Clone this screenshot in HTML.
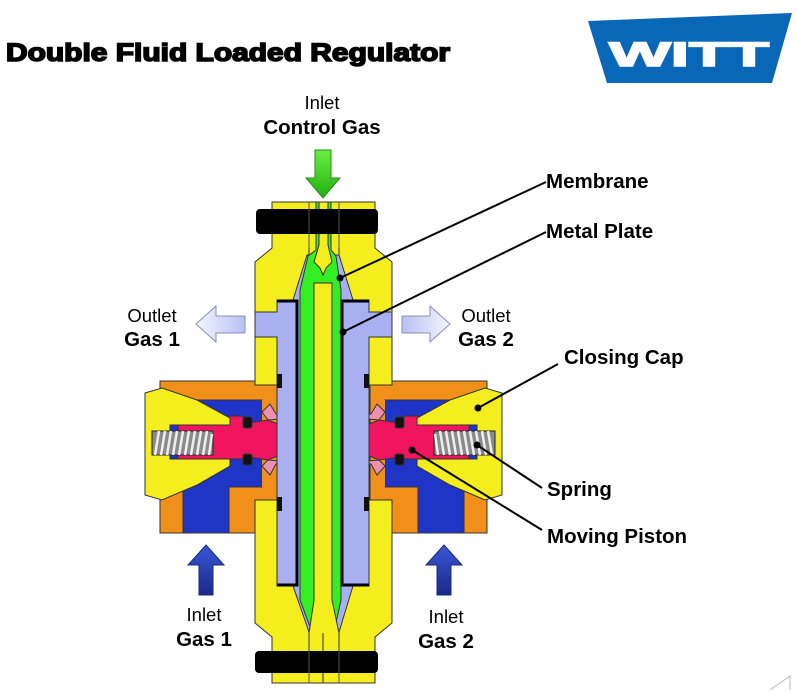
<!DOCTYPE html>
<html><head><meta charset="utf-8"><style>
html,body{margin:0;padding:0;background:#fff;}
svg{display:block;font-family:"Liberation Sans",Arial,sans-serif;}
</style></head><body>
<svg width="797" height="693" viewBox="0 0 797 693" xmlns="http://www.w3.org/2000/svg">
<defs>
<linearGradient id="gb" x1="0" y1="0" x2="0" y2="1"><stop offset="0" stop-color="#3a56d8"/><stop offset="1" stop-color="#1a2a8a"/></linearGradient>
<linearGradient id="gl" x1="0" y1="0" x2="1" y2="0"><stop offset="0" stop-color="#f4f6ff"/><stop offset="1" stop-color="#b8c0f4"/></linearGradient>
<linearGradient id="gr" x1="1" y1="0" x2="0" y2="0"><stop offset="0" stop-color="#f4f6ff"/><stop offset="1" stop-color="#b8c0f4"/></linearGradient>
<linearGradient id="gg" x1="0" y1="0" x2="0" y2="1"><stop offset="0" stop-color="#6cf040"/><stop offset="1" stop-color="#20b010"/></linearGradient>
<g id="half" stroke="#333" stroke-width="1">
  <rect x="160" y="381" width="117" height="152" fill="#f0901a"/>
  <polygon points="183,533 229,533 229,487 262,487 262,400 197,400 183,420" fill="#1e35c8"/>
  <polygon points="270,400 262,400 262,487 270,487" fill="#f0901a" stroke="none"/>
  <polygon points="178,416 242,416 248,423 268,420 288,428 295,436 295,446 288,452 268,460 248,457 242,459 178,459" fill="#f0155e"/>
  <polygon points="262,412 270,404 276,414 290,418 268,420" fill="#f090b0"/>
  <polygon points="262,466 270,475 276,464 290,462 268,460" fill="#f090b0"/>
  <rect x="243" y="417" width="9" height="11" rx="2" fill="#111"/>
  <rect x="243" y="454" width="9" height="11" rx="2" fill="#111"/>
  <path d="M287,432 Q297,430 297,441 Q297,452 287,450 Z" fill="#1a8a20"/>
  <polygon points="145,393 162,388 197,400 230,418 230,425 175,425 175,459 230,459 230,466 197,485 162,500 145,495" fill="#f5ee1e"/>
  <rect x="170" y="425" width="8" height="34" fill="#1e35c8"/>
  <rect x="152" y="431" width="61" height="24" fill="#8a8a8a" stroke="#222"/>
  <path d="M155,455 L159,431 M161,455 L165,431 M167,455 L171,431 M173,455 L177,431 M179,455 L183,431 M185,455 L189,431 M191,455 L195,431 M197,455 L201,431 M203,455 L207,431 M209,455 L212,434" stroke="#eee" stroke-width="2.5"/>
  <polygon points="272,202 309,202 309,385 255,385 255,262 272,248" fill="#f5ee1e"/>
  <polygon points="255,500 309,500 309,683 272,683 272,637 255,623" fill="#f5ee1e"/>
</g>
</defs>
<use href="#half"/>
<use href="#half" transform="translate(647,0) scale(-1,1)"/>
<rect x="309" y="202" width="30" height="481" fill="#f5ee1e" stroke="#333"/>
<polygon points="307,255 339,255 353,300 369,300 369,312 392,312 392,337 369,337 369,586 353,586 339,632 309,632 293,586 277,586 277,337 255,337 255,312 277,312 277,300 293,300" fill="#a9b0f2" stroke="#333"/>
<rect x="277" y="374" width="5" height="14" fill="#111"/>
<rect x="364" y="374" width="5" height="14" fill="#111"/>
<rect x="277" y="497" width="5" height="14" fill="#111"/>
<rect x="364" y="497" width="5" height="14" fill="#111"/>
<path d="M316,202 L331,202 L331,250 L336,256 L341,290 L341,600 L334,632 L323,645 L312,632 L300,600 L300,290 L308,256 L316,250 Z" fill="#33ee22" stroke="#333"/>
<path d="M319,202 L328,202 L328,245 L332,262 L326,268 L323,275 L320,268 L314,262 L319,245 Z" fill="#f5ee1e" stroke="#333"/>
<polygon points="314,283 332,283 332,600 339,633 339,683 309,683 309,633 314,600" fill="#f5ee1e" stroke="#333"/>
<line x1="323" y1="633" x2="323" y2="683" stroke="#333"/>
<path d="M277,301 L297,301 L297,585 L277,585" fill="none" stroke="#000" stroke-width="3"/>
<path d="M369,301 L342,301 L342,585 L369,585" fill="none" stroke="#000" stroke-width="3"/>
<rect x="256" y="209" width="122" height="25" rx="4" fill="#000"/>
<rect x="255" y="651" width="123" height="22" rx="4" fill="#000"/>
<line x1="309" y1="202" x2="309" y2="248" stroke="#555"/><line x1="339" y1="202" x2="339" y2="248" stroke="#555"/>
<line x1="309" y1="651" x2="309" y2="683" stroke="#555"/><line x1="339" y1="651" x2="339" y2="683" stroke="#555"/>
<polygon points="315,150 331,150 331,178 340,178 323,198 306,178 315,178" fill="url(#gg)" stroke="#2a8a20"/>
<polygon points="196,324 216,306 216,316 245,316 245,333 216,333 216,342" fill="url(#gl)" stroke="#8890b0"/>
<polygon points="450,324 430,306 430,316 402,316 402,333 430,333 430,342" fill="url(#gr)" stroke="#8890b0"/>
<polygon points="206,545 224,565 213,565 213,595 199,595 199,565 188,565" fill="url(#gb)" stroke="#1a2a70"/>
<polygon points="444,545 462,565 451,565 451,595 437,595 437,565 426,565" fill="url(#gb)" stroke="#1a2a70"/>
<g stroke="#000" stroke-width="2">
<line x1="546" y1="182" x2="340" y2="278"/>
<line x1="546" y1="232" x2="343" y2="332"/>
<line x1="558" y1="364" x2="478" y2="408"/>
<line x1="542" y1="488" x2="477" y2="445"/>
<line x1="542" y1="530" x2="412" y2="450"/>
</g>
<g fill="#000">
<circle cx="340" cy="278" r="3.5"/><circle cx="343" cy="332" r="3.5"/><circle cx="478" cy="408" r="3.5"/><circle cx="477" cy="445" r="3.5"/><circle cx="412" cy="450" r="3.5"/>
</g>
<text x="6" y="61" font-size="25" font-weight="bold" stroke="#000" stroke-width="1.6" textLength="444" lengthAdjust="spacingAndGlyphs">Double Fluid Loaded Regulator</text>
<polygon points="588,21 792,13 772,83 607,83" fill="#0a67b8"/>
<text x="689" y="66" font-size="34" font-weight="bold" fill="#fff" stroke="#fff" stroke-width="1.5" text-anchor="middle" textLength="160" lengthAdjust="spacingAndGlyphs">WITT</text>
<g font-size="18.5" text-anchor="middle">
<text x="322" y="109">Inlet</text>
<text x="152" y="322">Outlet</text>
<text x="486" y="322">Outlet</text>
<text x="204" y="621">Inlet</text>
<text x="446" y="623">Inlet</text>
</g>
<g font-size="20.5" font-weight="bold" text-anchor="middle">
<text x="322" y="134">Control Gas</text>
<text x="152" y="346">Gas 1</text>
<text x="486" y="346">Gas 2</text>
<text x="204" y="646">Gas 1</text>
<text x="446" y="648">Gas 2</text>
</g>
<g font-size="20.5" font-weight="bold">
<text x="546" y="188">Membrane</text>
<text x="546" y="238">Metal Plate</text>
<text x="564" y="364">Closing Cap</text>
<text x="547" y="496">Spring</text>
<text x="547" y="543">Moving Piston</text>
</g>
<path d="M770,690 L790,676 L790,690" fill="none" stroke="#bbb"/>
</svg>
</body></html>
